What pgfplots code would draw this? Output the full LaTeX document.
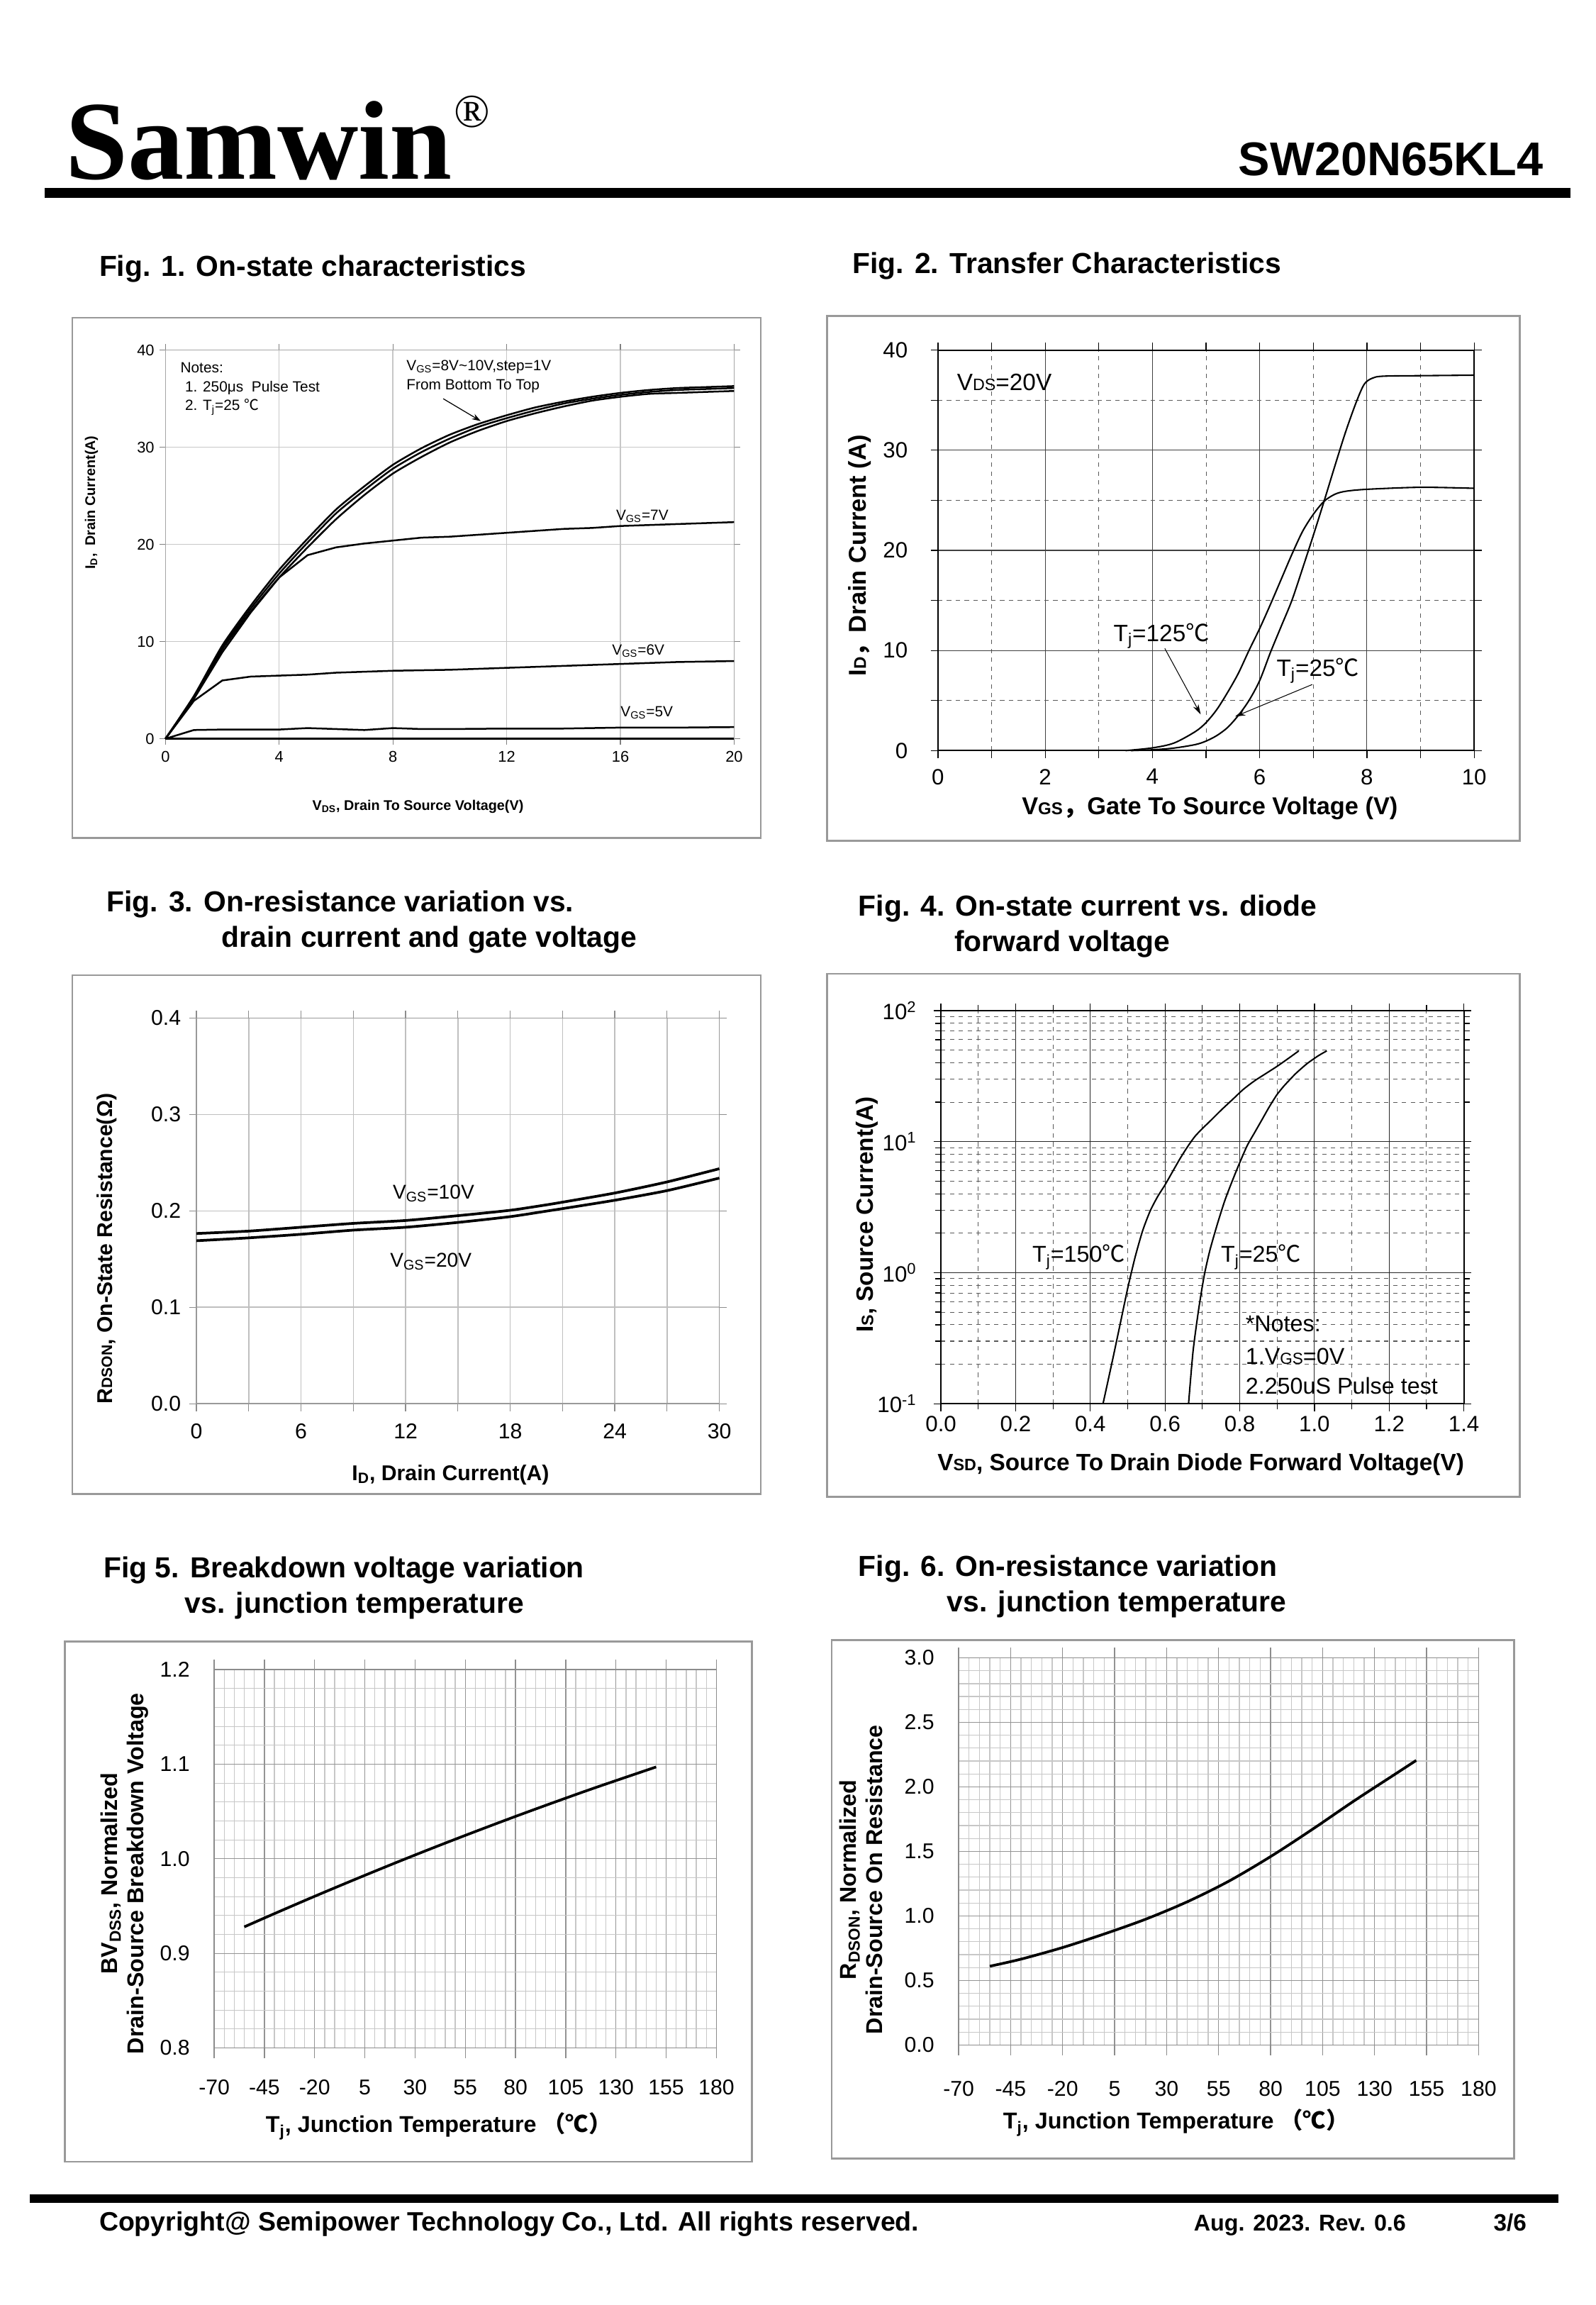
\documentclass[border=0pt]{standalone}
\usepackage{fontspec}
\setmainfont{Liberation Sans}
\newfontfamily\serifb{Liberation Serif}
\newfontfamily\cjk{Noto Sans CJK SC}
\usepackage{graphicx}
\usepackage{pgfplots}
\pgfplotsset{compat=1.18}
\usetikzlibrary{arrows.meta}
\newcommand\sm[1]{\scalebox{0.7}{#1}}
\newcommand\fs[2][1.15]{\fontsize{#2}{#1\dimexpr #2pt\relax}\selectfont}
\newcommand\degc{{\cjk ℃}}
\pgfplotsset{every axis/.append style={scale only axis, anchor=south west,
  /pgf/number format/assume math mode=true}}
\begin{document}
\begin{tikzpicture}
\path[use as bounding box] (0pt,0pt) rectangle (1080pt,1560pt);
% ---------- header ----------
\node[anchor=base west, inner sep=0pt] at (44pt,1439pt) {\serifb\bfseries\fs{76}Samwin};
\node[anchor=base west, inner sep=0pt] at (307pt,1474pt) {\serifb\fs{32}®};
\node[anchor=base east, inner sep=0pt] at (1045pt,1441pt) {\bfseries\fs{32}SW20N65KL4};
\fill (30pt,1426pt) rectangle (1063pt,1433pt);
% ---------- footer ----------
\fill (20pt,69pt) rectangle (1055pt,75pt);
\node[anchor=base west, inner sep=0pt] at (67pt,50pt) {\bfseries\fs{18}Copyright@ Semipower Technology Co., Ltd. All rights reserved.};
\node[anchor=base west, inner sep=0pt] at (808pt,50pt) {\bfseries\fs{15.5}Aug. 2023. Rev. 0.6};
\node[anchor=base west, inner sep=0pt] at (1011pt,50pt) {\bfseries\fs{16}3/6};
% ---------- titles ----------
\begin{scope}[every node/.style={anchor=base west, inner sep=0pt, font=\bfseries\fs{19.6}}]
\node at (67pt,1373pt) {Fig. 1. On-state characteristics};
\node at (577pt,1375pt) {Fig. 2. Transfer Characteristics};
\node at (72pt,943pt) {Fig. 3. On-resistance variation vs.};
\node at (150pt,919pt) {drain current and gate voltage};
\node at (581pt,940pt) {Fig. 4. On-state current vs. diode};
\node at (646pt,916pt) {forward voltage};
\node at (70pt,492pt) {Fig 5. Breakdown voltage variation};
\node at (125pt,468pt) {vs. junction temperature};
\node at (581pt,493pt) {Fig. 6. On-resistance variation};
\node at (641pt,469pt) {vs. junction temperature};
\end{scope}
% ---------- frames ----------
\begin{scope}[draw=black!40, line width=1.3pt]
\draw (49pt,993pt) rectangle (515pt,1345pt);
\draw (560pt,991pt) rectangle (1029pt,1346pt);
\draw (49pt,549pt) rectangle (515pt,900pt);
\draw (560pt,547pt) rectangle (1029pt,901pt);
\draw (44pt,97pt) rectangle (509pt,449pt);
\draw (563pt,99pt) rectangle (1025pt,450pt);
\end{scope}

% ================= Fig 1 =================
\begin{axis}[at={(112pt,1060pt)}, width=385pt, height=263pt,
  xmin=0, xmax=20, ymin=0, ymax=40,
  xtick={0,4,...,20}, ytick={0,10,...,40},
  grid=major, major grid style={black!22, line width=0.7pt},
  axis line style={black!35, line width=0.7pt},
  tick style={black!50, line width=0.6pt}, tick align=outside, major tick length=4pt,
  tick label style={font=\fs{10.5}},
  xticklabel style={yshift=-1pt},
  label style={font=\bfseries\fs{9.5}},
  xlabel={V\textsubscript{DS}, Drain To Source Voltage(V)},
  ylabel={I\textsubscript{D},\ \ Drain Current(A)},
  xlabel style={at={(axis description cs:0.444,-0.175)}, anchor=center},
  ylabel style={at={(axis description cs:-0.130,0.608)}, anchor=center},
  clip=false]
\addplot[black, line width=1.2pt, smooth, tension=0.4] coordinates {(0,0)(1,4.4)(2,9.6)(3,13.7)(4,17.4)(5,20.6)(6,23.6)(7,26.0)(8,28.2)(9,29.9)(10,31.3)(11,32.4)(12,33.3)(13,34.1)(14,34.7)(15,35.2)(16,35.6)(17,35.9)(18,36.1)(19,36.2)(20,36.3)};
\addplot[black, line width=1.2pt, smooth, tension=0.4] coordinates {(0,0)(1,4.3)(2,9.4)(3,13.4)(4,17.0)(5,20.2)(6,23.2)(7,25.6)(8,27.8)(9,29.5)(10,30.9)(11,32.1)(12,33.0)(13,33.8)(14,34.5)(15,35.0)(16,35.4)(17,35.7)(18,35.9)(19,36.0)(20,36.1)};
\addplot[black, line width=1.2pt, smooth, tension=0.4] coordinates {(0,0)(1,4.2)(2,9.2)(3,13.1)(4,16.6)(5,19.7)(6,22.6)(7,25.1)(8,27.3)(9,29.0)(10,30.5)(11,31.7)(12,32.7)(13,33.5)(14,34.2)(15,34.8)(16,35.2)(17,35.5)(18,35.6)(19,35.7)(20,35.8)};
\addplot[black, line width=1.2pt] coordinates {(0,0)(1,4.1)(2,8.9)(3,13.0)(4,16.6)(5,18.9)(6,19.7)(7,20.1)(8,20.4)(9,20.7)(10,20.8)(11,21.0)(12,21.2)(13,21.4)(14,21.6)(15,21.7)(16,21.9)(17,22.0)(18,22.1)(19,22.2)(20,22.3)};
\addplot[black, line width=1.2pt] coordinates {(0,0)(1,3.9)(2,6.0)(3,6.4)(4,6.5)(5,6.6)(6,6.8)(8,7.0)(10,7.1)(12,7.3)(14,7.5)(16,7.7)(18,7.9)(20,8.0)};
\addplot[black, line width=1.2pt] coordinates {(0,0)(1,0.9)(2,0.95)(3,0.95)(4,0.95)(5,1.1)(6,1.0)(7,0.9)(8,1.1)(9,1.0)(10,1.0)(12,1.05)(14,1.05)(16,1.15)(18,1.15)(20,1.2)};
\addplot[black, line width=1.4pt] coordinates {(0,0)(20,0)};
\begin{scope}[every node/.style={anchor=base west, inner sep=0pt, font=\fs{10}}]
\node at (axis cs:0.52,37.7) {Notes:};
\node at (axis cs:0.68,35.7) {1. 250μs\ \ Pulse Test};
\node at (axis cs:0.68,33.8) {2. T\textsubscript{j}=25 \degc};
\node at (axis cs:8.47,37.9) {V\textsubscript{GS}=8V\textasciitilde10V,step=1V};
\node at (axis cs:8.47,35.9) {From Bottom To Top};
\node at (axis cs:15.84,22.5) {V\textsubscript{GS}=7V};
\node at (axis cs:15.7,8.66) {V\textsubscript{GS}=6V};
\node at (axis cs:16.0,2.25) {V\textsubscript{GS}=5V};
\end{scope}
\draw[-{Stealth[length=6pt,width=4pt]}, line width=0.6pt] (axis cs:9.77,35.0) -- (axis cs:11.09,32.7);
\end{axis}

% ================= Fig 2 =================
\begin{axis}[at={(635pt,1052pt)}, width=363pt, height=271pt,
  xmin=0, xmax=10, ymin=0, ymax=40,
  xtick={0,2,...,10}, ytick={0,10,...,40}, minor x tick num=1, minor y tick num=1,
  grid=both, major grid style={black!75, line width=0.5pt},
  minor grid style={black!65, dashed, line width=0.5pt},
  axis line style={black, line width=0.9pt},
  tick style={black, line width=0.6pt}, tick align=outside, major tick length=5pt, minor tick length=5pt,
  tick label style={font=\fs{15}},
  xticklabel style={yshift=-4pt},
  yticklabel style={xshift=-12pt},
  label style={font=\bfseries\fs{16.5}},
  xlabel={V\sm{GS}{\cjk ，}Gate To Source Voltage (V)},
  ylabel={I\sm{D}{\cjk ，}Drain Current (A)},
  xlabel style={at={(axis description cs:0.507,-0.144)}, anchor=center},
  ylabel style={at={(axis description cs:-0.146,0.487)}, anchor=center},
  clip=false]
\addplot[black, line width=1pt, smooth, tension=0.5] coordinates {(3.6,0)(4.0,0.08)(4.4,0.25)(4.8,0.6)(5.0,0.95)(5.2,1.5)(5.4,2.3)(5.6,3.5)(5.8,5.0)(6.0,7.0)(6.2,9.8)(6.4,12.4)(6.6,15.0)(6.8,18.2)(7.0,21.5)(7.2,24.9)(7.4,28.4)(7.6,31.8)(7.8,34.8)(7.95,36.6)(8.1,37.2)(8.3,37.4)(9,37.45)(10,37.5)};
\addplot[black, line width=1pt, smooth, tension=0.5] coordinates {(3.5,0)(4.0,0.27)(4.4,0.75)(4.8,1.9)(5.0,2.8)(5.2,4.1)(5.4,5.8)(5.6,7.7)(5.8,10.0)(6.0,12.2)(6.2,14.6)(6.4,17.1)(6.6,19.6)(6.8,21.9)(7.0,23.6)(7.2,24.9)(7.4,25.6)(7.6,25.9)(8.0,26.1)(9,26.3)(10,26.2)};
\begin{scope}[every node/.style={anchor=base west, inner sep=0pt, font=\fs{16}}]
\node at (axis cs:0.35,36.0) {V\sm{DS}=20V};
\node at (axis cs:3.27,10.9) {T\textsubscript{j}=125\degc};
\node at (axis cs:6.31,7.46) {T\textsubscript{j}=25\degc};
\end{scope}
\draw[-{Stealth[length=7pt,width=4pt]}, line width=0.5pt] (axis cs:4.23,10.2) -- (axis cs:4.9,3.6);
\draw[-{Stealth[length=7pt,width=4pt]}, line width=0.5pt] (axis cs:6.98,6.6) -- (axis cs:5.54,3.4);
\end{axis}

% ================= Fig 3 =================
\begin{axis}[at={(133pt,610pt)}, width=354pt, height=261pt,
  xmin=0, xmax=30, ymin=0, ymax=0.4,
  xtick={0,6,...,30}, minor xtick={3,9,...,27}, ytick={0,0.1,0.2,0.3,0.4},
  yticklabels={0.0,0.1,0.2,0.3,0.4},
  grid=both, major grid style={black!25, line width=0.7pt}, minor grid style={black!25, line width=0.7pt},
  axis line style={black!40, line width=0.7pt},
  tick style={black!45, line width=0.6pt}, tick align=outside, major tick length=5pt, minor tick length=5pt,
  tick label style={font=\fs{14.5}},
  xticklabel style={yshift=-5pt},
  yticklabel style={xshift=-2pt},
  label style={font=\bfseries\fs{14.5}},
  xlabel={I\textsubscript{D}, Drain Current(A)},
  ylabel={R\sm{DSON}, On-State Resistance(Ω)},
  xlabel style={at={(axis description cs:0.486,-0.184)}, anchor=center},
  ylabel style={at={(axis description cs:-0.172,0.402)}, anchor=center},
  clip=false]
\addplot[black, line width=1.8pt, smooth, tension=0.4] coordinates {(0,0.1765)(3,0.179)(6,0.183)(9,0.187)(12,0.190)(15,0.195)(18,0.2006)(20,0.206)(21,0.209)(24,0.2185)(27,0.230)(30,0.2437)};
\addplot[black, line width=1.8pt, smooth, tension=0.4] coordinates {(0,0.169)(3,0.172)(6,0.1757)(9,0.180)(12,0.183)(15,0.188)(18,0.194)(20,0.1995)(21,0.2023)(24,0.211)(27,0.221)(30,0.234)};
\begin{scope}[every node/.style={anchor=base west, inner sep=0pt, font=\fs{13.5}}]
\node at (axis cs:11.25,0.2127) {V\textsubscript{GS}=10V};
\node at (axis cs:11.1,0.1418) {V\textsubscript{GS}=20V};
\end{scope}
\end{axis}

% ================= Fig 4 =================
\begin{axis}[at={(637pt,610pt)}, width=354pt, height=266pt,
  ymode=log, xmin=0, xmax=1.4, ymin=0.1, ymax=100,
  xtick={0,0.2,0.4,0.6,0.8,1.0,1.2,1.4}, xticklabels={0.0,0.2,0.4,0.6,0.8,1.0,1.2,1.4},
  minor x tick num=1,
  ytick={0.1,1,10,100}, yticklabels={10\textsuperscript{-1},10\textsuperscript{0},10\textsuperscript{1},10\textsuperscript{2}},
  grid=both, major grid style={black!85, line width=0.5pt},
  minor grid style={black!65, dashed, line width=0.5pt},
  axis line style={black, line width=0.9pt},
  tick style={black, line width=0.6pt}, tick align=outside, major tick length=5pt, minor tick length=4pt,
  tick label style={font=\fs{15}},
  yticklabel style={xshift=-8pt},
  label style={font=\bfseries\fs{16}},
  xlabel={V\sm{SD}, Source To Drain Diode Forward Voltage(V)},
  ylabel={I\sm{S}, Source Current(A)},
  xlabel style={at={(axis description cs:0.497,-0.154)}, anchor=center},
  ylabel style={at={(axis description cs:-0.141,0.481)}, anchor=center},
  clip=false]
\addplot[black, line width=1pt, smooth, tension=0.4] coordinates {(0.434,0.1)(0.46,0.219)(0.48,0.407)(0.50,0.759)(0.52,1.318)(0.54,2.089)(0.56,2.951)(0.58,3.80)(0.60,4.68)(0.62,5.89)(0.64,7.41)(0.66,9.12)(0.68,10.96)(0.70,12.59)(0.72,14.29)(0.75,17.38)(0.78,20.89)(0.81,25.12)(0.84,29.17)(0.87,33.11)(0.90,37.58)(0.93,43.15)(0.958,49.3)};
\addplot[black, line width=1pt, smooth, tension=0.4] coordinates {(0.663,0.1)(0.675,0.251)(0.69,0.525)(0.705,0.955)(0.72,1.479)(0.74,2.344)(0.76,3.548)(0.78,5.012)(0.80,6.918)(0.82,9.333)(0.84,11.75)(0.86,14.79)(0.88,18.62)(0.90,22.91)(0.92,26.92)(0.95,33.11)(0.98,39.36)(1.01,45.19)(1.033,49.3)};
\begin{scope}[every node/.style={anchor=base west, inner sep=0pt, font=\fs{15.5}}]
\node at (axis cs:0.244,1.21) {T\textsubscript{j}=150\degc};
\node at (axis cs:0.749,1.21) {T\textsubscript{j}=25\degc};
\node at (axis cs:0.815,0.354) {*Notes:};
\node at (axis cs:0.815,0.201) {1.V\sm{GS}=0V};
\node at (axis cs:0.815,0.118) {2.250uS Pulse test};
\end{scope}
\end{axis}

% ================= Fig 5 =================
\begin{axis}[at={(145pt,174pt)}, width=340pt, height=256pt,
  xmin=-70, xmax=180, ymin=0.8, ymax=1.2,
  xtick={-70,-45,...,180}, xticklabels={-70,-45,-20,5,30,55,80,105,130,155,180},
  minor x tick num=4,
  ytick={0.8,0.9,1.0,1.1,1.2}, yticklabels={0.8,0.9,1.0,1.1,1.2}, minor y tick num=4,
  grid=both, major grid style={black!42, line width=0.6pt}, minor grid style={black!22, line width=0.6pt},
  axis line style={black!45, line width=0.7pt},
  tick style={black!45, line width=0.6pt}, tick align=outside, major tick length=7pt, minor tick length=0pt,
  ytick style={draw=none},
  tick label style={font=\fs{14.5}},
  xticklabel style={yshift=-11pt},
  yticklabel style={xshift=-6pt},
  label style={font=\bfseries\fs[1.15]{15.5}},
  xlabel={T\textsubscript{j}, Junction Temperature {\cjk （℃）}},
  ylabel={BV\textsubscript{DSS}, Normalized\\Drain-Source Breakdown Voltage},
  xlabel style={at={(axis description cs:0.447,-0.207)}, anchor=center},
  ylabel style={at={(axis description cs:-0.179,0.461)}, anchor=center, align=center},
  clip=false]
\addplot[black, line width=1.8pt, smooth] coordinates {(-55,0.928)(-40,0.942)(-20,0.9603)(0,0.9781)(20,0.9955)(40,1.0124)(60,1.0288)(80,1.0448)(100,1.0603)(120,1.0754)(150,1.0971)};
\end{axis}

% ================= Fig 6 =================
\begin{axis}[at={(649pt,176pt)}, width=352pt, height=262pt,
  xmin=-70, xmax=180, ymin=0, ymax=3,
  xtick={-70,-45,...,180}, xticklabels={-70,-45,-20,5,30,55,80,105,130,155,180},
  minor x tick num=4,
  ytick={0,0.5,1,1.5,2,2.5,3}, yticklabels={0.0,0.5,1.0,1.5,2.0,2.5,3.0}, minor y tick num=4,
  grid=both, major grid style={black!42, line width=0.6pt}, minor grid style={black!22, line width=0.6pt},
  axis line style={black!45, line width=0.7pt},
  tick style={black!45, line width=0.6pt}, tick align=outside, major tick length=7pt, minor tick length=0pt,
  ytick style={draw=none},
  tick label style={font=\fs{14.5}},
  xticklabel style={yshift=-14pt},
  yticklabel style={xshift=-6pt},
  label style={font=\bfseries\fs[1.15]{15.5}},
  xlabel={T\textsubscript{j}, Junction Temperature {\cjk （℃）}},
  ylabel={R\textsubscript{DSON}, Normalized\\Drain-Source On Resistance},
  xlabel style={at={(axis description cs:0.418,-0.200)}, anchor=center},
  ylabel style={at={(axis description cs:-0.188,0.427)}, anchor=center, align=center},
  clip=false]
\addplot[black, line width=1.8pt, smooth] coordinates {(-55,0.61)(-40,0.665)(-20,0.755)(0,0.86)(20,0.975)(40,1.11)(60,1.27)(80,1.46)(100,1.67)(120,1.89)(140,2.10)(150,2.205)};
\end{axis}
\end{tikzpicture}
\end{document}
